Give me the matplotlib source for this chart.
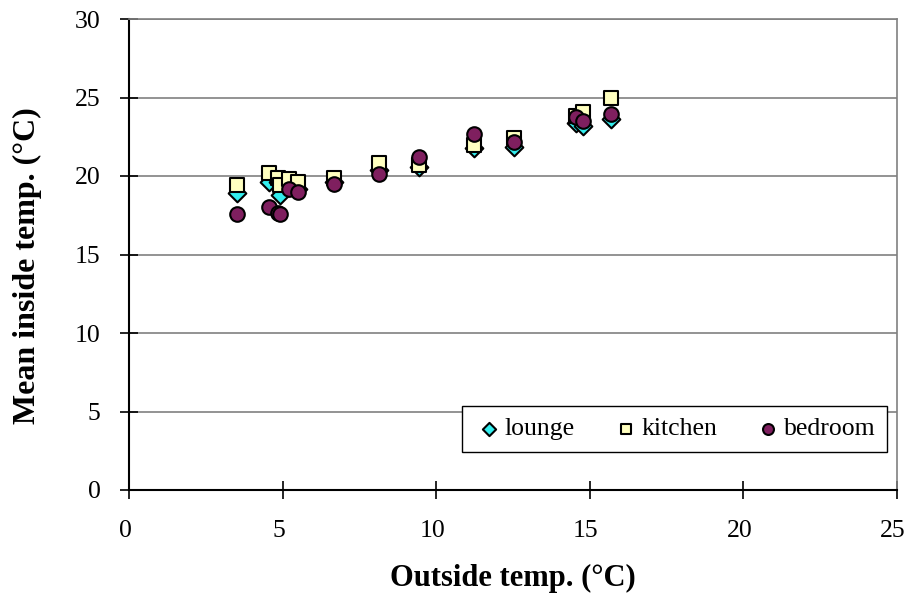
import matplotlib
matplotlib.use("Agg")
import matplotlib.pyplot as plt
import matplotlib.transforms as mtransforms

outside = [3.52, 4.57, 4.86, 4.90, 5.22, 5.51, 6.68, 8.15, 9.45, 11.23, 12.52, 14.55, 14.77, 15.69]
lounge  = [18.9, 19.64, 19.6, 18.8, 19.3, 19.2, 19.6, 20.4, 20.6, 21.8, 21.85, 23.4, 23.2, 23.6]
kitchen = [19.45, 20.18, 19.9, 19.45, 19.79, 19.63, 19.9, 20.85, 20.7, 21.97, 22.4, 23.8, 24.1, 24.95]
bedroom = [17.6, 18.04, 17.65, 17.6, 19.15, 19.0, 19.5, 20.1, 21.2, 22.65, 22.15, 23.74, 23.5, 23.95]

xticks = [0, 5, 10, 15, 20, 25]
yticks = [0, 5, 10, 15, 20, 25, 30]

plt.rcParams['font.family'] = ['Liberation Serif', 'DejaVu Serif']

fig = plt.figure(figsize=(9.10, 6.05), dpi=100)
ax = fig.add_axes([129/910, 1 - 490/605, (897-129)/910, (490-19)/605])

ax.scatter(outside, lounge, marker='D', s=9**2, facecolor='#33EEEE', edgecolor='black', linewidth=1.5, label='lounge', zorder=3)
ax.scatter(outside, kitchen, marker='s', s=10**2, facecolor='#FFFFC0', edgecolor='black', linewidth=1.5, label='kitchen', zorder=4)
ax.scatter(outside, bedroom, marker='o', s=10.5**2, facecolor='#7F1F5F', edgecolor='black', linewidth=1.5, label='bedroom', zorder=5)

ax.set_xlim(0, 25)
ax.set_ylim(0, 30)
ax.set_xticks(xticks)
ax.set_yticks(yticks)
ax.tick_params(direction='inout', length=13, width=1.2, labelsize=18.5, color='black')
ax.tick_params(axis='x', pad=15)
ax.tick_params(axis='y', pad=14)
offset = mtransforms.ScaledTranslation(-4/100, 0, fig.dpi_scale_trans)
for lab in ax.get_xticklabels():
    lab.set_transform(lab.get_transform() + offset)
for y in yticks[1:]:
    ax.axhline(y, color='#808080', linewidth=1.2, zorder=1)
ax.spines['left'].set_color('black')
ax.spines['bottom'].set_color('black')
ax.spines['left'].set_linewidth(1.5)
ax.spines['bottom'].set_linewidth(1.5)
ax.spines['top'].set_color('#808080')
ax.spines['right'].set_color('#808080')
ax.spines['top'].set_linewidth(1.2)
ax.spines['right'].set_linewidth(1.2)

ax.set_xlabel('Outside temp. (°C)', fontsize=22, fontweight='bold', labelpad=16)
ax.set_ylabel('Mean inside temp. (°C)', fontsize=23, fontweight='bold')
ax.yaxis.set_label_coords(-87/768, 0.4756)

leg = ax.legend(loc='lower right', bbox_to_anchor=(0.987, 0.0807), borderaxespad=0, ncol=3, fontsize=18.5,
                frameon=True, fancybox=False, edgecolor='black', framealpha=1,
                handletextpad=0.0, handlelength=1.2, columnspacing=1.4, markerscale=0.75, borderpad=0.45)
leg.get_frame().set_linewidth(1.0)

fig.savefig('out.png', dpi=100)
